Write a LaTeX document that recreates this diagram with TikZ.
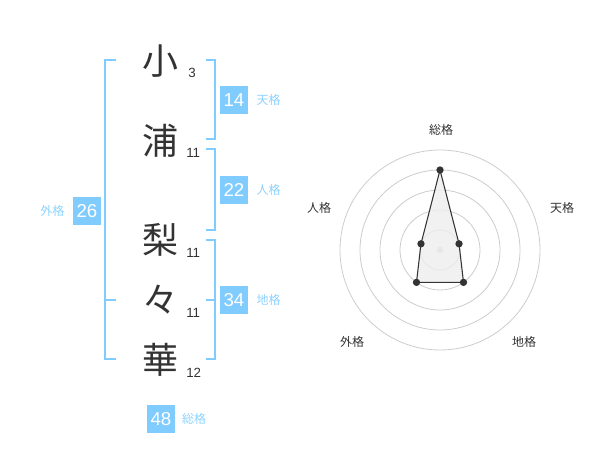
\documentclass[tikz,border=0pt]{standalone}
\usepackage{fontspec}
\setmainfont{Liberation Sans}
\newfontfamily\jpfont{Noto Sans CJK JP}
\definecolor{Sky}{HTML}{80CCFF}
\definecolor{SkyText}{HTML}{8CD2FF}
\definecolor{Ink}{HTML}{333333}
\definecolor{Ring}{HTML}{CCCCCC}
\definecolor{Area}{HTML}{EEEEEE}
\usetikzlibrary{positioning}
\tikzset{
  kanji/.style={font=\jpfont\fontsize{27}{27}\selectfont, text=Ink, inner sep=0pt},
  strokes/.style={font=\fontsize{10}{10}\selectfont, text=Ink, inner sep=0pt, anchor=west},
  score/.style={
    rectangle, fill=Sky, text=white,
    minimum width=21pt, minimum height=21pt, inner sep=0pt,
    font=\fontsize{14}{14}\selectfont
  },
  tag/.style={font=\jpfont\fontsize{9}{9}\selectfont, text=SkyText, inner sep=0pt},
  brk/.style={draw=Sky, line width=1.5pt},
  ring/.style={draw=Ring, line width=0.6pt},
  axis/.style={font=\jpfont\fontsize{9}{9}\selectfont, text=Ink, inner sep=0pt},
  pt/.style={circle, fill=Ink, inner sep=0pt, minimum size=5.5pt},
}
\begin{document}
\begin{tikzpicture}[x=0.75pt, y=-0.75pt]
\useasboundingbox (0,0) rectangle (600,470);

% Name characters with stroke counts
\node[kanji] at (160,61) (c1) {小};
\node[kanji] at (160,141) (c2) {浦};
\node[kanji] at (160,240) (c3) {梨};
\node[kanji] at (160,300) (c4) {々};
\node[kanji] at (160,360) (c5) {華};
\node[strokes] at (188,73) (n1) {3};
\node[strokes] at (186,153) (n2) {11};
\node[strokes] at (186,253) (n3) {11};
\node[strokes] at (186,313) (n4) {11};
\node[strokes] at (186,373) (n5) {12};

% Brackets on the right
\draw[brk] (206,60) -- (215,60) -- (215,139) -- (206,139);
\draw[brk] (206,149) -- (215,149) -- (215,230) -- (206,230);
\draw[brk] (206,240) -- (215,240) -- (215,359) -- (206,359);
\draw[brk] (206,300) -- (215,300);

% Bracket on the left
\draw[brk] (116,60) -- (105,60) -- (105,359) -- (116,359);
\draw[brk] (105,300) -- (116,300);

% Score boxes
\node[score] at (234,100) (ten) {14};
\node[tag, right=6pt of ten] (tenL) {天格};
\node[score] at (234,190) (jin) {22};
\node[tag, right=6pt of jin] (jinL) {人格};
\node[score] at (234,300) (chi) {34};
\node[tag, right=6pt of chi] (chiL) {地格};
\node[score] at (87,211) (gai) {26};
\node[tag, left=6pt of gai] (gaiL) {外格};
\node[score] at (161,419) (sou) {48};
\node[tag, right=5pt of sou] (souL) {総格};

% Radar chart
\begin{scope}[shift={(440,250)}, y=0.75pt]
  \foreach \r in {20,40,60,80,100}
    \draw[ring] (0,0) circle[radius=\r];
  \fill[Ring] (0,0) circle[radius=3.2];
  \coordinate (pS) at (90:80);
  \coordinate (pT) at (18:20);
  \coordinate (pC) at (-54:40);
  \coordinate (pG) at (-126:40);
  \coordinate (pJ) at (162:20);
  \filldraw[fill=Area, fill opacity=0.8, draw=Ink, line width=0.8pt]
    (pS) -- (pT) -- (pC) -- (pG) -- (pJ) -- cycle;
  \foreach \p in {pS,pT,pC,pG,pJ}
    \node[pt] at (\p) {};
  \node[axis] at (1,120) (aS) {総格};
  \node[axis] at (122,42) (aT) {天格};
  \node[axis] at (-121,42) (aJ) {人格};
  \node[axis] at (84,-92) (aC) {地格};
  \node[axis] at (-88,-92) (aG) {外格};
\end{scope}

\end{tikzpicture}
\end{document}
